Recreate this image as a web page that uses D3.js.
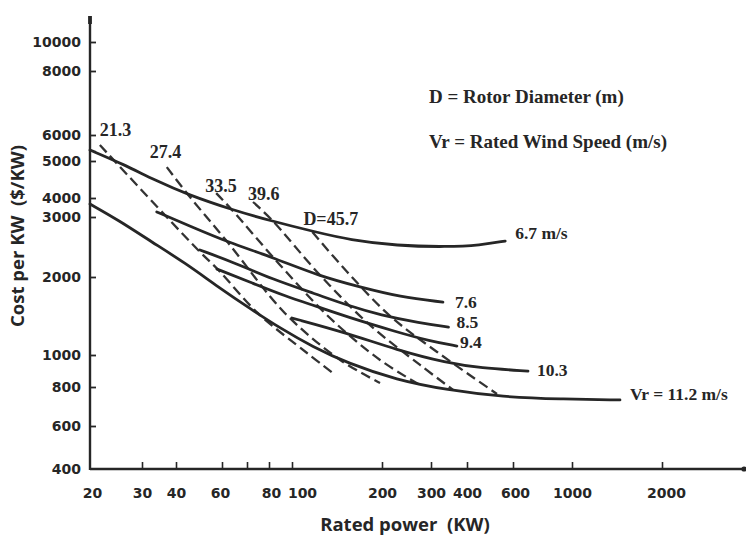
<!DOCTYPE html>
<html>
<head>
<meta charset="utf-8">
<script src="https://cdn.jsdelivr.net/npm/d3@7"></script>
<style>
  body { margin: 0; background: #ffffff; }
  svg { display: block; }
</style>
</head>
<body>
<svg id="chart" width="746" height="541"></svg>
<script>
// ---------------- DATA ----------------
// Axis ticks (values) and their labels
const xTicks = [20, 30, 40, 60, 70, 80, 100, 200, 300, 400, 600, 1000, 2000];
const xTickLabels = ["20", "30", "40", "60", "", "80", "100", "200", "300", "400", "600", "1000", "2000"];
const yTicks = [400, 600, 800, 1000, 2000, 3000, 4000, 5000, 6000, 8000, 10000];
const yTickLabels = ["400", "600", "800", "1000", "2000", "3000", "4000", "5000", "6000", "8000", "10000"];

// Rated wind speed curves: [rated power kW, cost $/kW]
const speedNames = ["6.7 m/s", "7.6", "8.5", "9.4", "10.3", "Vr = 11.2 m/s"];
const vr67 = [[20, 5400], [26, 4900], [33.5, 4450], [44.5, 4080], [64, 3340], [82, 2920], [120, 2710], [156, 2570], [226, 2470], [341, 2450], [450, 2480], [560, 2550]];
const vr76 = [[34, 3240], [45.3, 2820], [62.3, 2530], [82, 2290], [124, 2010], [169, 1830], [232, 1675], [330, 1600]];
const vr85 = [[49.4, 2400], [65, 2200], [82, 1965], [120, 1720], [156, 1545], [197, 1427], [274, 1329], [345, 1282]];
const vr94 = [[57.4, 2110], [72.2, 1897], [93.4, 1689], [120, 1545], [153, 1402], [226, 1227], [297, 1132], [369, 1083]];
const vr103 = [[100, 1389], [153, 1216], [226, 1045], [341, 946], [450, 913], [683, 894]];
const vr112 = [[20, 3650], [24.9, 2940], [32.7, 2530], [43.3, 2200], [58, 1830], [72.2, 1492], [89, 1271], [117.5, 1074], [153, 946], [226, 840], [341, 783], [550, 743], [902, 732], [1447, 727]];

// Constant rotor diameter lines (m): [rated power kW, cost $/kW]
const diamNames = ["21.3", "27.4", "33.5", "39.6", "D=45.7"];
const d213 = [[21.6, 5590], [36.4, 3090], [49.4, 2370], [58, 2100], [74.8, 1450], [112, 1020], [137, 882]];
const d274 = [[37, 4820], [44.5, 4080], [62.3, 2520], [93.4, 1450], [145, 966], [197, 823]];
const d335 = [[57, 4120], [63.8, 3340], [89, 2170], [134, 1389], [197, 966], [274, 811]];
const d396 = [[72.6, 3765], [82.3, 2940], [124, 2027], [182, 1306], [274, 933], [358, 783]];
const d457 = [[117, 2711], [153, 2069], [214, 1414], [315, 1027], [521, 760]];

const legendLines = ["D = Rotor Diameter (m)", "Vr = Rated Wind Speed (m/s)"];

// ---------------- LAYOUT ----------------
const W = 746, H = 541;
// pixel calibration of the (hand drawn, irregular) log axes
const xTickPx = [90, 142, 176, 222, 247, 269, 292, 382, 431, 467, 513, 572, 662];
const yTickPx = [469, 426, 387, 355, 277, 217, 198, 161, 135, 71, 42];
const xLabelShift = [2, 0, 0, -2, 0, 2, 10, 0, 0, 0, 2, 0, 4];
const xAxisEnd = 745, yAxisTop = 16;
const speedLabelOffset = [[10, -2], [12, 6], [8, 1], [3, 2], [9, 5], [10, 0]];
const diamLabelOffset = [[0, -9], [-17, -9], [-11, -1], [-5, -2], [-9, -7]];
const ink = "#262626";

const svg = d3.select("#chart");
svg.append("rect").attr("width", W).attr("height", H).attr("fill", "#fff");

const xs = d3.scaleLinear().domain(xTicks.map(Math.log10)).range(xTickPx);
const ys = d3.scaleLinear().domain(yTicks.map(Math.log10)).range(yTickPx);
const x = v => xs(Math.log10(v));
const y = v => ys(Math.log10(v));

const x0 = x(xTicks[0]);
const yBase = y(yTicks[0]);

// ---------------- AXES ----------------
const xAxis = svg.append("g")
  .attr("transform", `translate(0,${yBase})`)
  .call(d3.axisBottom(xs)
    .tickValues(xTicks.map(Math.log10))
    .tickFormat((d, i) => xTickLabels[i])
    .tickSize(-7)
    .tickSizeOuter(0));
xAxis.select(".domain").remove();
xAxis.selectAll(".tick line").attr("stroke", ink).attr("stroke-width", 1.6)
  .filter((d, i) => i === 0).remove();
xAxis.selectAll(".tick text")
  .attr("dy", null).attr("y", 29)
  .attr("x", (d, i) => xLabelShift[i])
  .attr("fill", ink)
  .style("font-family", "'DejaVu Sans', sans-serif")
  .style("font-weight", "bold")
  .style("font-size", "14px");

const yAxis = svg.append("g")
  .attr("transform", `translate(${x0},0)`)
  .call(d3.axisLeft(ys)
    .tickValues(yTicks.map(Math.log10))
    .tickFormat((d, i) => yTickLabels[i])
    .tickSize(-6)
    .tickPadding(9)
    .tickSizeOuter(0));
yAxis.select(".domain").remove();
yAxis.selectAll(".tick line").attr("stroke", ink).attr("stroke-width", 1.8)
  .filter((d, i) => i === 0).remove();
yAxis.selectAll(".tick text")
  .attr("fill", ink)
  .style("font-family", "'DejaVu Sans', sans-serif")
  .style("font-weight", "bold")
  .style("font-size", "14px");

// axis lines
svg.append("line").attr("x1", x0).attr("x2", xAxisEnd).attr("y1", yBase).attr("y2", yBase)
  .attr("stroke", ink).attr("stroke-width", 2.4);
svg.append("line").attr("x1", x0).attr("x2", x0).attr("y1", yBase + 1).attr("y2", yAxisTop)
  .attr("stroke", ink).attr("stroke-width", 2.4);
svg.append("line").attr("x1", x0).attr("x2", x0).attr("y1", yAxisTop).attr("y2", yAxisTop + 8)
  .attr("stroke", ink).attr("stroke-width", 3.8);
svg.append("circle").attr("cx", xAxisEnd - 1).attr("cy", yBase).attr("r", 2.6).attr("fill", ink);

// axis titles
svg.append("text")
  .attr("transform", `translate(24,236) rotate(-90)`)
  .attr("text-anchor", "middle")
  .attr("fill", ink)
  .style("font-family", "'Open Sans', sans-serif")
  .style("font-weight", "bold")
  .style("font-size", "18.5px")
  .style("white-space", "pre")
  .text("Cost per KW  ($/KW)");
svg.append("text")
  .attr("x", 405).attr("y", 531)
  .attr("text-anchor", "middle")
  .attr("fill", ink)
  .style("font-family", "'Open Sans', sans-serif")
  .style("font-weight", "bold")
  .style("font-size", "18.5px")
  .style("white-space", "pre")
  .text("Rated power  (KW)");

// ---------------- MARKS ----------------
const dashLine = d3.line()
  .x(d => x(d[0]))
  .y(d => y(d[1]))
  .curve(d3.curveCatmullRom.alpha(0.5));
const smoothLine = d3.line()
  .x(d => x(d[0]))
  .y(d => y(d[1]))
  .curve(d3.curveBasis);

const diamSeries = [d213, d274, d335, d396, d457];
svg.append("g").selectAll("path").data(diamSeries).join("path")
  .attr("d", dashLine)
  .attr("fill", "none")
  .attr("stroke", "#333")
  .attr("stroke-width", 2.3)
  .attr("stroke-dasharray", "10,5");

const speedSeries = [vr67, vr76, vr85, vr94, vr103, vr112];
svg.append("g").selectAll("path").data(speedSeries).join("path")
  .attr("d", smoothLine)
  .attr("fill", "none")
  .attr("stroke", ink)
  .attr("stroke-width", 2.8)
  .attr("stroke-linecap", "round");

const serif = "'Liberation Serif', 'Times New Roman', serif";

// speed labels at curve ends
svg.append("g").selectAll("text").data(speedSeries).join("text")
  .attr("x", (d, i) => x(d[d.length - 1][0]) + speedLabelOffset[i][0])
  .attr("y", (d, i) => y(d[d.length - 1][1]) + speedLabelOffset[i][1])
  .attr("fill", ink)
  .style("font-family", serif)
  .style("font-weight", "bold")
  .style("font-size", "17.5px")
  .text((d, i) => speedNames[i]);

// diameter labels at dashed line starts
svg.append("g").selectAll("text").data(diamSeries).join("text")
  .attr("x", (d, i) => x(d[0][0]) + diamLabelOffset[i][0])
  .attr("y", (d, i) => y(d[0][1]) + diamLabelOffset[i][1])
  .attr("fill", ink)
  .style("font-family", serif)
  .style("font-weight", "bold")
  .style("font-size", "18px")
  .text((d, i) => diamNames[i]);

// legend text
svg.append("g").selectAll("text").data(legendLines).join("text")
  .attr("x", 429)
  .attr("y", (d, i) => 103 + i * 45)
  .attr("fill", ink)
  .style("font-family", serif)
  .style("font-weight", "bold")
  .style("font-size", "19px")
  .text(d => d);
</script>
</body>
</html>
